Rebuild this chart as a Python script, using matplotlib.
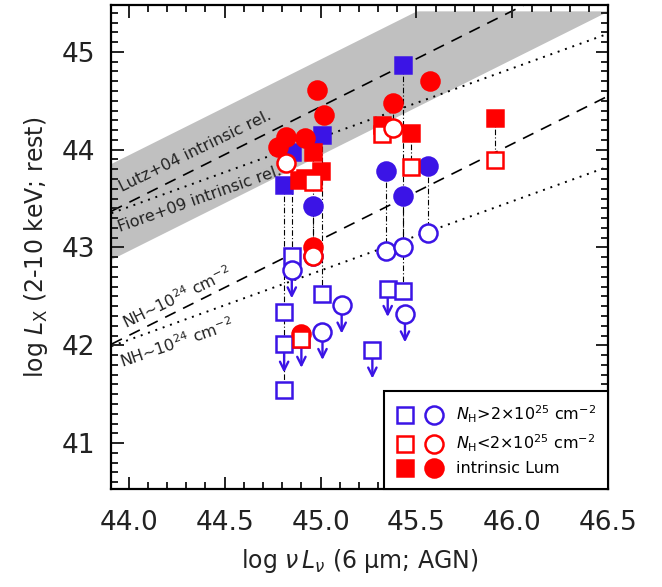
import numpy as np
import matplotlib
matplotlib.use('Agg')
import matplotlib.pyplot as plt
from matplotlib.ticker import MultipleLocator
from matplotlib.lines import Line2D
from matplotlib.legend_handler import HandlerTuple

nan = np.nan

# ---------------- relations (value at log nuLnu = 44, slope) ----------------
lutz_a, lutz_b = 43.46, 0.98
lutz_scatter = 0.49
fiore_a, fiore_b = 43.415, 0.709
nh24_shift = -1.36      # suppression for NH ~ 1e24 cm^-2
band_top = 45.42

# ---------------- NH > 2e25 (blue) ----------------
# squares
bs_x   = [44.81, 44.81, 44.81, 44.85, 45.01, 45.27, 45.35, 45.43, 44.90]
bs_obs = [42.34, 42.01, 41.54, 42.91, 42.52, 41.95, 42.58, 42.56, 42.06]
bs_int = [nan,   nan,   43.64, 43.98, 44.15, nan,   nan,   44.87, nan]
bs_ul  = [0, 1, 0, 0, 0, 1, 1, 0, 1]
# circles
bc_x   = [44.85, 44.96, 45.01, 45.11, 45.34, 45.43, 45.44, 45.56]
bc_obs = [42.77, 42.91, 42.14, 42.41, 42.96, 43.01, 42.32, 43.15]
bc_int = [nan,   43.42, nan,   nan,   43.78, 43.53, nan,   43.83]
bc_ul  = [1, 0, 1, 1, 0, 0, 1, 0]

# ---------------- NH < 2e25 (red) ----------------
rs_x   = [44.89, 44.92, 44.96, 45.00, 44.90, 45.32, 45.47, 45.91]
rs_obs = [nan,   nan,   43.67, nan,   42.06, 44.16, 43.82, 43.89]
rs_int = [43.69, 43.71, 43.98, 43.78, nan,   44.25, 44.17, 44.32]

rc_x   = [44.78, 44.82, 44.92, 44.98, 45.02, 44.96, 44.90, 45.38, 45.57]
rc_obs = [nan,   43.86, nan,   nan,   nan,   42.91, nan,   44.22, nan]
rc_int = [44.03, 44.13, 44.12, 44.61, 44.36, 43.01, 42.12, 44.48, 44.70]

blue = '#3b14e6'
red = '#ff0000'

fig = plt.figure(figsize=(6.62, 5.87), dpi=100)
ax = fig.add_axes([0.1684, 0.1669, 0.7505, 0.8246])
ax.set_xlim(43.91, 46.5)
ax.set_ylim(40.53, 45.48)

# ---------------- relations ----------------
xx = np.linspace(43.91, 46.5, 200)
lutz = lutz_a + lutz_b * (xx - 44)
fiore = fiore_a + fiore_b * (xx - 44)
ax.fill_between(xx, lutz - lutz_scatter, np.minimum(lutz + lutz_scatter, band_top),
                color='#c0c0c0', lw=0, zorder=0)
ax.plot(xx, lutz, color='k', lw=1.2, ls=(0, (7, 5)), zorder=1)
ax.plot(xx, fiore, color='k', lw=1.4, ls=(0, (1, 3)), zorder=1)
ax.plot(xx, lutz + nh24_shift, color='k', lw=1.2, ls=(0, (7, 5)), zorder=1)
ax.plot(xx, fiore + nh24_shift, color='k', lw=1.4, ls=(0, (1, 3)), zorder=1)

txt = dict(fontsize=11.5, ha='center', va='center', rotation_mode='anchor',
           color='#222222')
ax.text(44.345, 43.98, 'Lutz+04 intrinsic rel.', rotation=26, **txt)
ax.text(44.37, 43.50, 'Fiore+09 intrinsic rel.', rotation=19.5, **txt)
ax.text(44.25, 42.49, 'NH~10$^{24}$ cm$^{-2}$', rotation=26, **txt)
ax.text(44.25, 42.03, 'NH~10$^{24}$ cm$^{-2}$', rotation=19, **txt)


# ---------------- connectors: intrinsic -> observed ----------------
def connect(xs, y1, y2):
    for x, a, b in zip(xs, y1, y2):
        if np.isnan(a) or np.isnan(b):
            continue
        ax.plot([x, x], [a, b], color='k', lw=0.8, ls=(0, (5, 2, 1, 2)), zorder=2)


connect(bs_x, bs_int, bs_obs)
connect(bc_x, bc_int, bc_obs)
connect(rs_x, rs_int, rs_obs)
connect(rc_x, rc_int, rc_obs)
# red chain down the x~44.96 column
connect([44.96], [43.98], [42.91])


# ---------------- upper limit arrows ----------------
def arrows(xs, ys, ul):
    for x, y, u in zip(xs, ys, ul):
        if u:
            ax.annotate('', xy=(x, y - 0.29), xytext=(x, y),
                        arrowprops=dict(arrowstyle='->', color=blue, lw=1.7,
                                        mutation_scale=15, shrinkA=0, shrinkB=0),
                        zorder=3)


arrows(bs_x, bs_obs, bs_ul)
arrows(bc_x, bc_obs, bc_ul)

# ---------------- markers ----------------
sq = dict(marker='s', ms=11, ls='none', mew=1.8)
ci = dict(marker='o', ms=13, ls='none', mew=1.8)

ax.plot(bs_x, bs_obs, mfc='white', mec=blue, zorder=4, **sq)
ax.plot(bc_x, bc_obs, mfc='white', mec=blue, zorder=4, **ci)
ax.plot(bs_x, bs_int, mfc=blue, mec=blue, zorder=5, **sq)
ax.plot(bc_x, bc_int, mfc=blue, mec=blue, zorder=5, **ci)

ax.plot(rc_x, rc_int, mfc=red, mec=red, zorder=5, **ci)
ax.plot(rs_x, rs_int, mfc=red, mec=red, zorder=5, **sq)
ax.plot(rs_x, rs_obs, mfc='white', mec=red, zorder=6, **sq)
ax.plot(rc_x, rc_obs, mfc='white', mec=red, zorder=6, **ci)

# ---------------- legend ----------------
h_bs = Line2D([], [], mfc='white', mec=blue, **sq)
h_bc = Line2D([], [], mfc='white', mec=blue, **ci)
h_rs = Line2D([], [], mfc='white', mec=red, **sq)
h_rc = Line2D([], [], mfc='white', mec=red, **ci)
h_fs = Line2D([], [], mfc=red, mec=red, **sq)
h_fc = Line2D([], [], mfc=red, mec=red, **ci)
leg = ax.legend([(h_bs, h_bc), (h_rs, h_rc), (h_fs, h_fc)],
                [r'$N_{\rm H}$>2×10$^{25}$ cm$^{-2}$',
                 r'$N_{\rm H}$<2×10$^{25}$ cm$^{-2}$',
                 'intrinsic Lum'],
                handler_map={tuple: HandlerTuple(ndivide=None, pad=0.7)},
                loc='lower right', borderaxespad=0, fancybox=False,
                framealpha=1, edgecolor='k', fontsize=11.5, handlelength=2.9,
                handletextpad=0.8, labelspacing=0.45, borderpad=0.8)
leg.get_frame().set_linewidth(1.5)

# ---------------- axes ----------------
ax.xaxis.set_major_locator(MultipleLocator(0.5))
ax.xaxis.set_minor_locator(MultipleLocator(0.1))
ax.yaxis.set_major_locator(MultipleLocator(1))
ax.yaxis.set_minor_locator(MultipleLocator(0.1))
ax.xaxis.set_major_formatter(plt.FormatStrFormatter('%.1f'))
ax.tick_params(which='both', direction='in', top=True, right=True, width=1.4,
               labelsize=19, colors='#222222')
ax.tick_params(axis='x', which='major', length=9, pad=15)
ax.tick_params(axis='y', which='major', length=9, pad=12)
ax.tick_params(which='minor', length=5)
for sp in ax.spines.values():
    sp.set_linewidth(1.6)

ax.set_xlabel(r'log $\nu\,L_\nu$ (6 μm; AGN)', fontsize=17, color='#222222', labelpad=8)
ax.set_ylabel(r'log $L_{\rm X}$ (2-10 keV; rest)', fontsize=17, color='#222222', labelpad=8)

plt.savefig('out.png', dpi=100)
